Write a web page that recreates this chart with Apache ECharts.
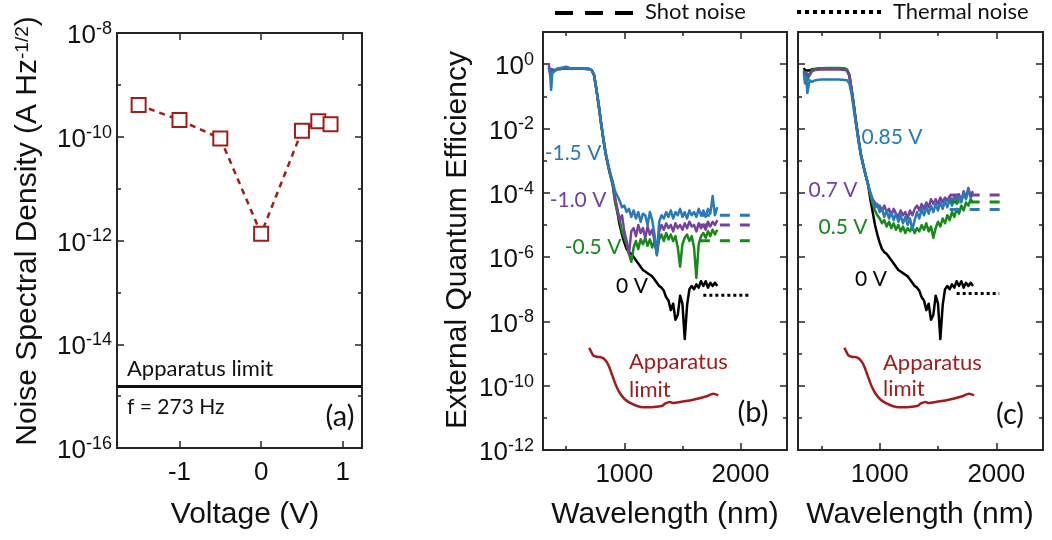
<!DOCTYPE html>
<html>
<head>
<meta charset="utf-8">
<script src="https://cdn.jsdelivr.net/npm/echarts@6/dist/echarts.min.js"></script>
<style>
  html, body { margin: 0; padding: 0; background: #fff; }
  #chart { width: 1052px; height: 540px; }
</style>
</head>
<body>
<div id="chart"></div>
<script>
// ---------------- (a) noise spectral density vs bias ----------------
const voltages = [-1.5, -1.0, -0.5, 0, 0.5, 0.7, 0.85];
const noiseDensity = [4.1e-10, 2.1e-10, 9.3e-11, 1.35e-12, 1.3e-10, 2.0e-10, 1.75e-10]; // A Hz^-1/2
const apparatusNoise = 1.53e-15;

const voltTicks = [-1, 0, 1];
const nsdMajor = [1e-16, 1e-14, 1e-12, 1e-10, 1e-8];
const nsdMinor = [1e-15, 1e-13, 1e-11, 1e-9];

// ---------------- (b), (c) external quantum efficiency spectra ----------------
const wlTicksMajor = [1000, 2000];
const wlTicksMinor = [500, 1500];
const eqeMajor = [1e-12, 1e-10, 1e-8, 1e-6, 1e-4, 1e-2, 1];
const eqeMinor = [1e-11, 1e-9, 1e-7, 1e-5, 1e-3, 1e-1];

const wavelengths = [350, 360, 370, 380, 400, 420, 450, 500, 550, 600, 650, 700, 720, 740, 760, 780, 800, 820, 840, 860, 880, 900,
  920, 940, 960, 980, 1000, 1020, 1040, 1060, 1080, 1100, 1120, 1140, 1160, 1180, 1200, 1220, 1240, 1260, 1280, 1300,
  1320, 1340, 1360, 1380, 1400, 1420, 1440, 1460, 1480, 1500, 1520, 1540, 1560, 1580, 1600, 1620, 1640, 1660, 1680, 1700,
  1720, 1740, 1760, 1780, 1800];

// log10(EQE) at each wavelength
const eqe0V = [-0.12, -0.2, -0.15, -0.2, -0.2, -0.16, -0.15, -0.13, -0.14, -0.14, -0.14, -0.15, -0.19, -0.35, -0.8, -1.3, -1.85, -2.35, -2.8, -3.15, -3.45, -3.72,
  -4.2, -4.6, -5.0, -5.3, -5.55, -5.75, -5.85, -5.9, -6.0, -6.1, -6.2, -6.3, -6.4, -6.45, -6.5, -6.55, -6.6, -6.7, -6.8, -6.9,
  -6.95, -7.05, -7.25, -7.35, -7.65, -7.45, -7.95, -7.8, -7.2, -7.45, -8.55, -7.5, -7.0, -6.9, -7.0, -6.85, -6.95, -6.75, -6.9, -6.75,
  -6.95, -6.8, -6.9, -6.8, -6.9];
const eqeM05V = [-0.1, -0.22, -0.17, -0.2, -0.19, -0.15, -0.15, -0.13, -0.14, -0.13, -0.14, -0.15, -0.19, -0.35, -0.8, -1.3, -1.85, -2.35, -2.8, -3.15, -3.47, -3.78,
  -4.3, -4.6, -4.85, -5.2, -5.4, -5.6, -5.9, -6.15, -5.7, -5.5, -5.75, -5.45, -5.6, -5.4, -5.65, -5.45, -5.7, -5.5, -5.9, -5.45,
  -5.3, -5.5, -5.25, -5.45, -5.3, -5.5, -5.35, -5.7, -6.3, -5.6, -5.4, -5.3, -5.5, -5.35, -5.7, -6.65, -5.6, -5.35, -5.25, -5.4,
  -5.2, -5.35, -5.15, -5.3, -5.15];
const eqeM10V = [0.0, -0.3, -0.15, -0.2, -0.19, -0.15, -0.14, -0.12, -0.14, -0.13, -0.14, -0.15, -0.19, -0.34, -0.79, -1.28, -1.83, -2.33, -2.78, -3.12, -3.43, -3.7,
  -4.15, -4.5, -4.85, -4.7, -5.2, -5.5, -5.9, -5.2, -5.1, -5.35, -5.0, -5.25, -5.1, -5.4, -5.05, -5.3, -5.15, -5.5, -5.9, -5.2,
  -5.0, -5.15, -4.95, -5.1, -5.0, -5.2, -4.95, -5.1, -5.0, -5.15, -4.95, -5.1, -4.9, -5.05, -5.0, -5.2, -4.95, -5.1, -5.0, -5.15,
  -4.9, -5.05, -4.9, -5.0, -4.85];
const eqeM15V = [-0.12, -0.25, -0.8, -0.28, -0.22, -0.15, -0.12, -0.08, -0.15, -0.13, -0.14, -0.15, -0.19, -0.33, -0.78, -1.27, -1.82, -2.32, -2.77, -3.1, -3.4, -3.65,
  -3.95, -4.1, -4.25, -4.45, -4.4, -4.6, -4.5, -4.75, -4.55, -4.8, -4.6, -4.9, -4.65, -4.7, -5.0, -4.6, -4.85, -5.3, -5.95, -4.9,
  -4.7, -4.8, -4.6, -4.75, -4.55, -4.8, -4.6, -4.7, -4.5, -4.75, -4.6, -4.8, -4.55, -4.7, -4.6, -4.75, -4.5, -4.7, -4.55, -4.75,
  -4.5, -4.65, -4.1, -4.7, -4.45];
const eqeP05V = [-0.2, -0.45, -0.25, -0.5, -0.3, -0.18, -0.15, -0.13, -0.12, -0.12, -0.12, -0.13, -0.16, -0.32, -0.8, -1.35, -1.9, -2.4, -2.85, -3.15, -3.45, -3.75,
  -4.05, -4.35, -4.55, -4.7, -4.8, -4.95, -4.85, -5.05, -4.9, -5.1, -4.95, -5.15, -5.0, -5.2, -5.05, -5.25, -5.1, -5.2, -5.05, -5.25,
  -5.1, -5.2, -5.0, -5.15, -4.95, -5.2, -5.05, -5.4, -5.1, -4.9, -5.05, -4.8, -4.95, -4.7, -4.85, -4.6, -4.75, -4.5, -4.65, -4.4,
  -4.55, -4.3, -4.4, -4.2, -4.3];
const eqeP07V = [-0.25, -0.35, -0.55, -0.3, -0.35, -0.22, -0.18, -0.17, -0.17, -0.17, -0.17, -0.18, -0.2, -0.35, -0.82, -1.37, -1.9, -2.4, -2.85, -3.15, -3.45, -3.75,
  -4.0, -4.2, -4.3, -4.45, -4.4, -4.55, -4.4, -4.6, -4.5, -4.7, -4.5, -4.65, -4.75, -4.55, -4.7, -4.6, -4.8, -4.55, -4.7, -4.5,
  -4.4, -4.55, -4.35, -4.5, -4.3, -4.45, -4.2, -4.35, -4.2, -4.35, -4.15, -4.3, -4.15, -4.25, -4.1, -4.3, -4.1, -4.2, -4.05, -4.25,
  -3.95, -4.15, -3.85, -4.1, -3.95];
const eqeP085V = [-0.3, -0.6, -0.4, -0.9, -0.5, -0.55, -0.5, -0.48, -0.48, -0.48, -0.48, -0.49, -0.5, -0.6, -0.95, -1.45, -1.95, -2.42, -2.85, -3.15, -3.45, -3.73,
  -4.0, -4.25, -4.45, -4.35, -4.6, -4.5, -4.75, -4.55, -4.8, -4.6, -4.85, -4.65, -4.9, -4.7, -4.95, -4.75, -5.0, -4.8, -5.15, -4.85,
  -4.6, -4.8, -4.5, -4.7, -4.45, -4.65, -4.4, -4.6, -4.35, -4.55, -4.3, -4.5, -4.25, -4.45, -4.2, -4.4, -4.15, -4.35, -4.1, -4.3,
  -4.0, -4.2, -3.9, -4.15, -4.05];

// measurement floor of the EQE setup (log10)
const apparatusWl = [698, 715, 733, 760, 790, 820, 848, 870, 891, 912, 934, 960, 991, 1025, 1063, 1110, 1163, 1230, 1307, 1330,
  1350, 1393, 1422, 1490, 1565, 1640, 1709, 1766, 1809];
const apparatusEqe = [-8.82, -8.95, -9.06, -9.1, -9.11, -9.15, -9.26, -9.42, -9.63, -9.84, -10.04, -10.22, -10.37, -10.48, -10.56,
  -10.63, -10.67, -10.67, -10.64, -10.62, -10.56, -10.51, -10.54, -10.5, -10.46, -10.4, -10.33, -10.25, -10.3];

// noise-limited EQE levels: [start nm, end nm, EQE]
const shotB = { m15: [1650, 2080, 2.0e-5], m10: [1650, 2080, 9.9e-6], m05: [1650, 2080, 3.2e-6] };
const shotC = { p07: [1600, 2040, 8.5e-5], p05: [1600, 2040, 5.2e-5], p085: [1600, 2040, 3.0e-5] };
const thermalB = [1680, 2070, 6.5e-8];
const thermalC = [1660, 2025, 7.4e-8];

// ---------------- styling ----------------
const SANS = 'Liberation Sans, Arial, sans-serif';
const NOTE = 'Lato, sans-serif';
const AX = '#262626';
const C = { black: '#000000', green: '#178a17', purple: '#7443a0', blue: '#2a7ab8', red: '#a31c1c' };

const supRich = {
  b: { fontSize: 26, fontFamily: SANS, color: '#111', lineHeight: 32 },
  s: { fontSize: 18, fontFamily: SANS, color: '#111', lineHeight: 14, verticalAlign: 'top' }
};
const powLabel = v => '{b|10}{s|' + Math.round(Math.log10(v)) + '}';

function axis(type, gridIndex, position, min, max, ticks, len, label) {
  const a = {
    type, gridIndex, position, min, max,
    axisLine: { show: true, onZero: false, lineStyle: { color: AX, width: 2 } },
    axisTick: { show: true, inside: true, length: len, customValues: ticks, lineStyle: { color: AX, width: 1.5 } },
    axisLabel: label ? Object.assign({ customValues: ticks }, label) : { show: false },
    splitLine: { show: false },
    minorTick: { show: false }
  };
  if (type === 'log') a.logBase = 10;
  return a;
}

const xLabel = { fontSize: 26, fontFamily: SANS, color: '#111', margin: 12, formatter: v => String(v) };
const yLabelA = { margin: 5, formatter: powLabel, rich: supRich, padding: [6, 0, 0, 0] };
const yLabelB = { margin: 9, formatter: powLabel, rich: supRich, padding: [6, 0, 0, 0] };

const WL_MIN = 300, WL_MAX = 2400;
const V_MIN = -1.765, V_MAX = 1.235;

const xAxes = [
  axis('value', 0, 'bottom', V_MIN, V_MAX, voltTicks, 7, xLabel),
  axis('value', 0, 'top', V_MIN, V_MAX, voltTicks, 7, null),
  axis('value', 1, 'bottom', WL_MIN, WL_MAX, wlTicksMajor, 7, xLabel),
  axis('value', 1, 'bottom', WL_MIN, WL_MAX, wlTicksMinor, 4, null),
  axis('value', 1, 'top', WL_MIN, WL_MAX, wlTicksMajor, 7, null),
  axis('value', 1, 'top', WL_MIN, WL_MAX, wlTicksMinor, 4, null),
  axis('value', 2, 'bottom', WL_MIN, WL_MAX, wlTicksMajor, 7, xLabel),
  axis('value', 2, 'bottom', WL_MIN, WL_MAX, wlTicksMinor, 4, null),
  axis('value', 2, 'top', WL_MIN, WL_MAX, wlTicksMajor, 7, null),
  axis('value', 2, 'top', WL_MIN, WL_MAX, wlTicksMinor, 4, null)
];
const yAxes = [
  axis('log', 0, 'left', 1e-16, 1e-8, nsdMajor, 7, yLabelA),
  axis('log', 0, 'left', 1e-16, 1e-8, nsdMinor, 4, null),
  axis('log', 0, 'right', 1e-16, 1e-8, nsdMajor, 7, null),
  axis('log', 0, 'right', 1e-16, 1e-8, nsdMinor, 4, null),
  axis('log', 1, 'left', 1e-12, 10, eqeMajor, 7, yLabelB),
  axis('log', 1, 'left', 1e-12, 10, eqeMinor, 4, null),
  axis('log', 1, 'right', 1e-12, 10, eqeMajor, 7, null),
  axis('log', 1, 'right', 1e-12, 10, eqeMinor, 4, null),
  axis('log', 2, 'left', 1e-12, 10, eqeMajor, 7, null),
  axis('log', 2, 'left', 1e-12, 10, eqeMinor, 4, null),
  axis('log', 2, 'right', 1e-12, 10, eqeMajor, 7, null),
  axis('log', 2, 'right', 1e-12, 10, eqeMinor, 4, null)
];

function spectrum(xi, yi, exps, color) {
  return {
    type: 'line', xAxisIndex: xi, yAxisIndex: yi, symbol: 'none', silent: true,
    data: wavelengths.map((w, i) => [w, Math.pow(10, exps[i])]),
    lineStyle: { color, width: 2.5, join: 'round' }
  };
}
function apparatus(xi, yi) {
  return {
    type: 'line', xAxisIndex: xi, yAxisIndex: yi, symbol: 'none', silent: true, smooth: 0.3,
    data: apparatusWl.map((w, i) => [w, Math.pow(10, apparatusEqe[i])]),
    lineStyle: { color: C.red, width: 2.5 }
  };
}
function level(xi, yi, seg, color, dash) {
  return {
    type: 'line', xAxisIndex: xi, yAxisIndex: yi, symbol: 'none', silent: true,
    data: [[seg[0], seg[2]], [seg[1], seg[2]]],
    lineStyle: { color, width: 3, type: dash, cap: 'butt' }
  };
}

const series = [
  // apparatus noise floor across the full bias range
  {
    type: 'line', xAxisIndex: 0, yAxisIndex: 0, symbol: 'none', silent: true,
    data: [[V_MIN, apparatusNoise], [V_MAX, apparatusNoise]],
    lineStyle: { color: '#111', width: 3 }
  },
  {
    type: 'line', xAxisIndex: 0, yAxisIndex: 0, silent: true,
    data: voltages.map((v, i) => [v, noiseDensity[i]]),
    symbol: 'emptyRect', symbolSize: 14,
    itemStyle: { color: C.red, borderColor: C.red, borderWidth: 2.5 },
    lineStyle: { color: C.red, width: 2.5, type: [6, 5] }
  },
  // (b) reverse bias
  apparatus(2, 4),
  spectrum(2, 4, eqe0V, C.black),
  spectrum(2, 4, eqeM05V, C.green),
  spectrum(2, 4, eqeM10V, C.purple),
  spectrum(2, 4, eqeM15V, C.blue),
  level(2, 4, shotB.m15, C.blue, [10, 10]),
  level(2, 4, shotB.m10, C.purple, [10, 10]),
  level(2, 4, shotB.m05, C.green, [10, 10]),
  level(2, 4, thermalB, C.black, [3, 3]),
  // (c) forward bias
  apparatus(6, 8),
  spectrum(6, 8, eqe0V, C.black),
  spectrum(6, 8, eqeP05V, C.green),
  spectrum(6, 8, eqeP07V, C.purple),
  spectrum(6, 8, eqeP085V, C.blue),
  level(6, 8, shotC.p07, C.purple, [10, 10]),
  level(6, 8, shotC.p05, C.green, [10, 10]),
  level(6, 8, shotC.p085, C.blue, [10, 10]),
  level(6, 8, thermalC, C.black, [3, 3])
];

function note(text, x, y, color, size, align) {
  return {
    type: 'text', x, y, silent: true,
    style: { text, fill: color, fontSize: size, fontFamily: NOTE, align: align || 'center', verticalAlign: 'middle' }
  };
}
function title(text, x, y, rotated, rich) {
  const t = {
    type: 'text', x, y, silent: true,
    style: { text, fill: '#111', fontSize: 30, fontFamily: SANS, align: 'center', verticalAlign: 'middle' }
  };
  if (rich) t.style.rich = rich;
  if (rotated) t.rotation = Math.PI / 2;
  return t;
}

const graphic = [
  // legend for the noise levels
  { type: 'line', silent: true, shape: { x1: 555, y1: 13, x2: 635, y2: 13 }, style: { stroke: '#000', lineWidth: 4, lineDash: [18, 12] } },
  note('Shot noise', 645, 12, '#111', 22, 'left'),
  { type: 'line', silent: true, shape: { x1: 797, y1: 12, x2: 881, y2: 12 }, style: { stroke: '#000', lineWidth: 4, lineDash: [4, 4] } },
  note('Thermal noise', 893, 12, '#111', 22, 'left'),
  // axis titles
  title('Voltage (V)', 245, 515, false),
  title('Wavelength (nm)', 665, 515, false),
  title('Wavelength (nm)', 920, 515, false),
  title('Noise Spectral Density (A Hz{s|-1/2})', 28, 231, true,
        { s: { fontSize: 19, fontFamily: SANS, fill: '#111', lineHeight: 16, verticalAlign: 'top' } }),
  title('External Quantum Efficiency', 458, 240, true),
  // (a) annotations
  note('Apparatus limit', 127, 369, '#111', 22, 'left'),
  note('f = 273 Hz', 127, 407, '#111', 21, 'left'),
  note('(a)', 340, 417, '#111', 29),
  // (b) annotations
  note('-1.5 V', 573, 153, C.blue, 21),
  note('-1.0 V', 578, 200, C.purple, 21),
  note('-0.5 V', 593, 247, C.green, 21),
  note('0 V', 632, 286, C.black, 21),
  note('Apparatus', 629, 362, C.red, 22, 'left'),
  note('limit', 629, 390, C.red, 22, 'left'),
  note('(b)', 753, 413, '#111', 29),
  // (c) annotations
  note('0.85 V', 892, 137, C.blue, 21),
  note('0.7 V', 833, 190, C.purple, 21),
  note('0.5 V', 843, 227, C.green, 21),
  note('0 V', 871, 279, C.black, 21),
  note('Apparatus', 883, 363, C.red, 22, 'left'),
  note('limit', 883, 389, C.red, 22, 'left'),
  note('(c)', 1010, 415, '#111', 29)
];

const chart = echarts.init(document.getElementById('chart'), null, { renderer: 'canvas' });
chart.setOption({
  animation: false,
  backgroundColor: '#fff',
  grid: [
    { left: 117, top: 33, width: 245, height: 415, containLabel: false, outerBoundsMode: 'none' },
    { left: 543, top: 32, width: 244, height: 418, containLabel: false, outerBoundsMode: 'none' },
    { left: 798, top: 32, width: 245, height: 418, containLabel: false, outerBoundsMode: 'none' }
  ],
  xAxis: xAxes,
  yAxis: yAxes,
  series,
  graphic
});
</script>
</body>
</html>
